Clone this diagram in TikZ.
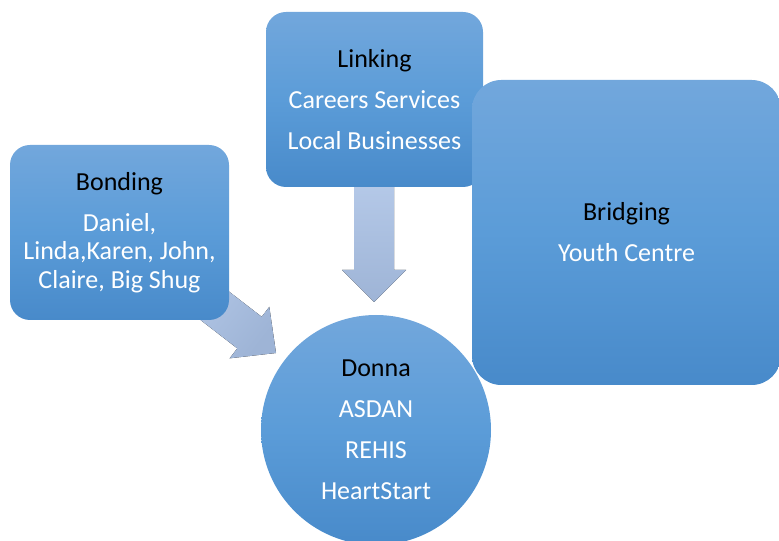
\documentclass[tikz,border=0pt]{standalone}
\usepackage{fontspec}
\setmainfont{Carlito}
\usetikzlibrary{backgrounds}
\definecolor{boxtop}{RGB}{114,167,220}
\definecolor{boxmid}{RGB}{91,156,216}
\definecolor{boxbot}{RGB}{72,138,202}
\definecolor{arrtop}{RGB}{183,203,234}
\definecolor{arrbot}{RGB}{158,180,214}
\newcommand\wht{\color{white}}
\begin{document}
\begin{tikzpicture}[x=0.75pt,y=-0.75pt,
  box/.style={top color=boxtop,bottom color=boxbot,middle color=boxmid,
    inner sep=0pt,align=center,text=black,
    font=\fontsize{19.5}{21.4}\selectfont},
  rbox/.style={box,rectangle,rounded corners=#1},
  blockarrow/.style={top color=arrtop,bottom color=arrbot,draw=none}]
\useasboundingbox (0,0) rectangle (779,541);
\node[rbox=15pt,minimum width=164.25pt,minimum height=131.25pt] (bond) at (119.5,232.5)
  {Bonding\\[9.35pt]\wht Daniel,\\\wht Linda,Karen, John,\\\wht Claire, Big Shug};
\node[rbox=15pt,minimum width=162.75pt,minimum height=131.25pt] (link) at (374.5,99.5)
  {Linking\\[9.35pt]\wht Careers Services\\[9.35pt]\wht Local Businesses};
\node[rbox=22pt,minimum width=231.75pt,minimum height=228.75pt] (bridge) at (626.5,232.5)
  {Bridging\\[9.35pt]\wht Youth Centre};
\node[box,circle,minimum size=172.5pt] (donna) at (376,430)
  {Donna\\[9.35pt]\wht ASDAN\\[9.35pt]\wht REHIS\\[9.35pt]\wht HeartStart};
\begin{scope}[on background layer]
  \coordinate (tipL) at (374,302);
  \coordinate (tipB) at (276,353);
  \fill[blockarrow] (354,170) -- (394,170) -- (394,270) -- (406,270) -- (tipL)
    -- (342,270) -- (354,270) -- cycle;
  \fill[blockarrow,shading angle=52] (158.3,287.4) -- (237.3,348.4) -- (229.7,358.3)
    -- (tipB) -- (269.3,306.9) -- (261.7,316.8) -- (182.7,255.8) -- cycle;
\end{scope}
\end{tikzpicture}
\end{document}
